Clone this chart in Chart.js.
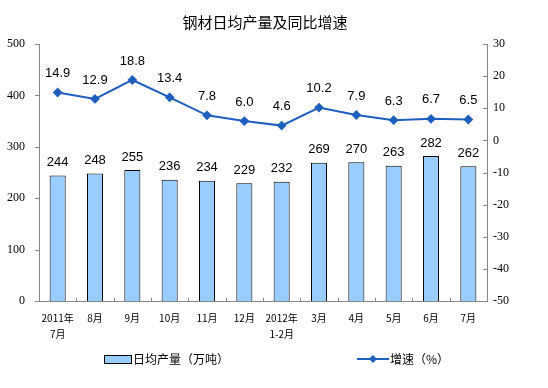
<!DOCTYPE html>
<html>
<head>
<meta charset="utf-8">
<script src="https://cdn.jsdelivr.net/npm/chart.js@4.4.0/dist/chart.umd.min.js"></script>
<style>
  html,body{margin:0;padding:0;background:#fff;}
  #wrap{position:relative;width:548px;height:388px;overflow:hidden;}
  #title{position:absolute;left:-9px;width:548px;top:11px;text-align:center;font:15px "Noto Sans CJK SC",sans-serif;color:#000;line-height:22px;}
  .lg{position:absolute;font:12px "Noto Sans CJK SC",sans-serif;color:#000;line-height:16px;}
</style>
</head>
<body>
<div id="wrap">
  <canvas id="c" width="548" height="388"></canvas>
  <div id="title">钢材日均产量及同比增速</div>
  <div id="lg1" style="position:absolute;left:104px;top:355px;width:26px;height:7px;background:#99ccff;border:1px solid #000;"></div>
  <div class="lg" style="left:133px;top:351px;">日均产量（万吨）</div>
  <canvas id="lg2" width="32" height="12" style="position:absolute;left:357px;top:353px;"></canvas>
  <div class="lg" style="left:390px;top:351px;">增速（%）</div>
</div>
<script>
const categories = [['2011年','7月'],'8月','9月','10月','11月','12月',['2012年','1-2月'],'3月','4月','5月','6月','7月'];
const output = [244,248,255,236,234,229,232,269,270,263,282,262];
const growth = [14.9,12.9,18.8,13.4,7.8,6.0,4.6,10.2,7.9,6.3,6.7,6.5];
const leftTicks = [0,100,200,300,400,500];
const rightTicks = [-50,-40,-30,-20,-10,0,10,20,30];

const BAR_FILL = '#99ccff';
const LINE_COLOR = '#1f5fbf';
const AXIS_COLOR = '#868686';

// legend line sample
(function(){
  const c = document.getElementById('lg2').getContext('2d');
  c.strokeStyle = LINE_COLOR; c.lineWidth = 2;
  c.beginPath(); c.moveTo(0,6); c.lineTo(32,6); c.stroke();
  c.fillStyle = LINE_COLOR;
  c.beginPath(); c.moveTo(16,2); c.lineTo(20,6); c.lineTo(16,10); c.lineTo(12,6); c.closePath(); c.fill();
})();

const extras = {
  id: 'extras',
  afterDatasetsDraw(chart) {
    const ctx = chart.ctx;
    const area = chart.chartArea;
    const x = chart.scales.x, y = chart.scales.y, y1 = chart.scales.y1;
    ctx.save();
    ctx.strokeStyle = AXIS_COLOR; ctx.lineWidth = 1;
    ctx.beginPath();
    leftTicks.forEach(v => { const py = Math.round(y.getPixelForValue(v)) + 0.5; ctx.moveTo(area.left - 4, py); ctx.lineTo(area.left, py); });
    rightTicks.forEach(v => { const py = Math.round(y1.getPixelForValue(v)) + 0.5; ctx.moveTo(area.right - 4, py); ctx.lineTo(area.right, py); });
    for (let i = 1; i < categories.length; i++) {
      const px = Math.round((x.getPixelForValue(i - 1) + x.getPixelForValue(i)) / 2) + 0.5;
      ctx.moveTo(px, area.bottom); ctx.lineTo(px, area.bottom - 3);
    }
    ctx.stroke();
    ctx.fillStyle = '#000';
    ctx.font = '13px "Liberation Sans", Arial, sans-serif';
    ctx.textAlign = 'center'; ctx.textBaseline = 'middle';
    chart.getDatasetMeta(0).data.forEach((el, i) => {
      ctx.fillText(String(output[i]), el.x, el.y - 13);
    });
    chart.getDatasetMeta(1).data.forEach((el, i) => {
      ctx.fillText(growth[i].toFixed(1), el.x, el.y - 19);
    });
    ctx.restore();
  }
};

new Chart(document.getElementById('c'), {
  data: {
    labels: categories,
    datasets: [
      {
        type: 'bar', label: '日均产量（万吨）', data: output, yAxisID: 'y',
        backgroundColor: BAR_FILL, borderColor: '#000', borderWidth: 1,
        barPercentage: 0.43, categoryPercentage: 1.0, order: 2
      },
      {
        type: 'line', label: '增速（%）', data: growth, yAxisID: 'y1',
        borderColor: LINE_COLOR, backgroundColor: LINE_COLOR, borderWidth: 2,
        pointStyle: 'rectRot', pointRadius: 3.5, pointHoverRadius: 3.5, tension: 0, order: 1
      }
    ]
  },
  options: {
    responsive: false,
    devicePixelRatio: 1,
    animation: false,
    layout: { padding: { top: 44, left: 0, right: 0, bottom: 0 } },
    plugins: { legend: { display: false }, title: { display: false }, tooltip: { enabled: false } },
    scales: {
      x: {
        offset: true,
        grid: { display: false, drawTicks: false },
        border: { display: true, color: AXIS_COLOR, width: 1 },
        ticks: { color: '#000', padding: 9, maxRotation: 0, autoSkip: false,
                 font: { family: '"Noto Sans CJK SC", sans-serif', size: 10, lineHeight: 1.6 } },
        afterFit(s) { s.height = 87; }
      },
      y: {
        position: 'left', min: 0, max: 500,
        grid: { display: false, drawTicks: false },
        border: { display: true, color: AXIS_COLOR, width: 1 },
        ticks: { stepSize: 100, color: '#000', padding: 14,
                 font: { family: '"Liberation Serif", serif', size: 12 } },
        afterFit(s) { s.width = 39; }
      },
      y1: {
        position: 'right', min: -50, max: 30,
        grid: { display: false, drawTicks: false },
        border: { display: true, color: AXIS_COLOR, width: 1 },
        ticks: { stepSize: 10, color: '#000', padding: 6,
                 font: { family: '"Liberation Serif", serif', size: 12 } },
        afterFit(s) { s.width = 61; }
      }
    }
  },
  plugins: [extras]
});
</script>
</body>
</html>
